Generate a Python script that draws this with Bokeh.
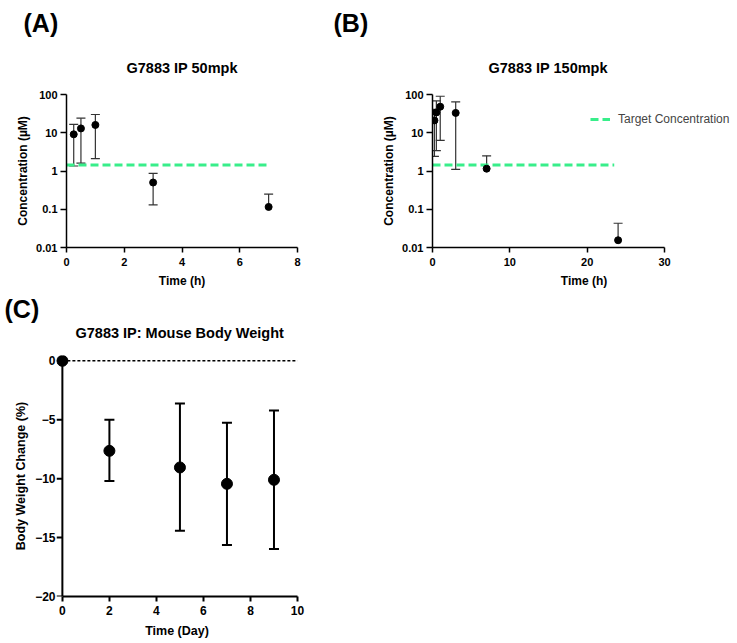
import numpy as np
from bokeh.plotting import figure
from bokeh.models import (Range1d, FixedTicker, Whisker, TeeHead, ColumnDataSource,
                          Title, Legend, LegendItem)
from bokeh.layouts import row, column
from bokeh.embed import file_html
from bokeh.resources import INLINE

# ---------------- data ----------------
# Panel A: G7883 IP 50mpk
a_time = [0.25, 0.5, 1, 3, 7]
a_conc = [9.1, 13, 16, 0.5, 0.115]
a_upper = [16.6, 24, 30, 0.87, 0.25]
a_lower = [1.35, 1.6, 2.1, 0.13, float("nan")]

# Panel B: G7883 IP 150mpk
b_time = [0.25, 0.5, 1, 3, 7, 24]
b_conc = [21, 34, 48, 33, 1.15, 0.0155]
b_upper = [41, 68, 90, 64, 2.5, 0.043]
b_lower = [2.4, 3.4, 6.3, 1.1, float("nan"), float("nan")]

target_conc = 1.43
a_target_x = [0, 7]
b_target_x = [0, 23.5]

# Panel C: body weight
c_day = [0, 2, 5, 7, 9]
c_change = [0, -7.64, -9.05, -10.44, -10.1]
c_upper = [0, -5.0, -3.62, -5.26, -4.22]
c_lower = [0, -10.2, -14.43, -15.62, -15.96]

a_xticks = [0, 2, 4, 6, 8]
b_xticks = [0, 10, 20, 30]
c_xticks = [0, 2, 4, 6, 8, 10]
c_yticks = [-20, -15, -10, -5, 0]
log_ticks = [0.01, 0.1, 1, 10, 100]
log_labels = {0.01: "0.01", 0.1: "0.1", 1: "1", 10: "10", 100: "100"}

FONT = "Liberation Sans"
GREEN = "#38EE8A"


def style_axes(p, tick_size, label_size, lw):
    for ax in (p.xaxis[0], p.yaxis[0]):
        ax.axis_line_width = lw
        ax.axis_line_color = "black"
        ax.major_tick_line_width = lw
        ax.major_tick_line_color = "black"
        ax.major_tick_out = 6
        ax.major_tick_in = 0
        ax.minor_tick_line_color = None
        ax.major_label_text_font = FONT
        ax.major_label_text_font_style = "bold"
        ax.major_label_text_font_size = tick_size
        ax.major_label_text_color = "black"
        ax.axis_label_text_font = FONT
        ax.axis_label_text_font_style = "bold"
        ax.axis_label_text_font_size = label_size
        ax.axis_label_text_color = "black"
    p.xgrid.visible = False
    p.ygrid.visible = False
    p.outline_line_color = None
    p.background_fill_color = None
    p.border_fill_color = None


def add_titles(p, letter, letter_offset, letter_standoff, title, title_offset,
               title_standoff, spacer_standoff=None):
    # panel letter is the figure's own (outermost) title
    p.title.text = letter
    p.title.align = "left"
    p.title.offset = letter_offset
    p.title.standoff = letter_standoff
    p.title.text_font = FONT
    p.title.text_font_style = "bold"
    p.title.text_font_size = "25px"
    p.title.text_color = "black"
    if spacer_standoff is not None:
        p.add_layout(Title(text=" ", standoff=spacer_standoff, text_font_size="8px"), "above")
    p.add_layout(Title(text=title, align="left", offset=title_offset,
                       standoff=title_standoff, text_font=FONT, text_font_style="bold",
                       text_font_size="14.5px", text_color="black"), "above")


def conc_panel(width, mb_left, mb_right, xticks, plot_w, times, conc, upper, lower,
               target_x, title, title_offset, letter, letter_offset, legend=False):
    # frame may extend past the last tick (room for the legend); axis line stops at last tick
    frame_w = width - mb_left - mb_right
    x_end = max(xticks) * frame_w / plot_w
    p = figure(width=width, height=290, y_axis_type="log",
               x_range=Range1d(0, x_end), y_range=Range1d(0.01, 100),
               output_backend="svg", toolbar_location=None,
               min_border_left=mb_left, min_border_right=mb_right,
               min_border_top=94, min_border_bottom=42)
    style_axes(p, "11px", "12px", 1.5)
    p.xaxis.bounds = (min(xticks), max(xticks))
    p.xaxis.major_tick_out = 5
    p.xaxis.major_label_standoff = 5
    p.xaxis.axis_label_standoff = 5
    p.yaxis.major_label_standoff = 3
    p.yaxis.axis_label_standoff = 3
    p.xaxis.ticker = FixedTicker(ticks=xticks)
    p.yaxis.ticker = FixedTicker(ticks=log_ticks)
    p.yaxis.major_label_overrides = log_labels
    p.xaxis.axis_label = "Time (h)"
    p.yaxis.axis_label = "Concentration (µM)"

    src = ColumnDataSource(dict(t=times, c=conc, up=upper, lo=lower))
    tl = p.line(target_x, [target_conc, target_conc], line_color=GREEN,
                line_width=3, line_dash="8 4")
    p.add_layout(Whisker(source=src, base="t", upper="up", lower="c", dimension="height",
                         line_color="#333333", line_width=1.2,
                         upper_head=TeeHead(size=9, line_color="#333333", line_width=1.2),
                         lower_head=None))
    p.add_layout(Whisker(source=src, base="t", upper="c", lower="lo", dimension="height",
                         line_color="#333333", line_width=1.2,
                         lower_head=TeeHead(size=9, line_color="#333333", line_width=1.2),
                         upper_head=None))
    p.scatter("t", "c", source=src, size=7, color="black")

    add_titles(p, letter, letter_offset, 4, title, title_offset, 38)
    if legend:
        lg = Legend(items=[LegendItem(label="Target Concentration", renderers=[tl])],
                    location=(158, 118), border_line_color=None, background_fill_alpha=0,
                    label_text_font=FONT, label_text_font_size="12px",
                    glyph_width=20, label_standoff=8, padding=0, margin=0)
        p.add_layout(lg, "center")
    return p


pa = conc_panel(328, 66, 31, a_xticks, 231, a_time, a_conc, a_upper, a_lower,
                a_target_x, "G7883 IP 50mpk", 60, "(A)", -43)
pb = conc_panel(409, 104, 2, b_xticks, 232, b_time, b_conc, b_upper, b_lower,
                b_target_x, "G7883 IP 150mpk", 56, "(B)", -99, legend=True)

# Panel C
pc = figure(width=330, height=353, x_range=Range1d(-0.25, 10), y_range=Range1d(-20, 0.45),
            output_backend="svg", toolbar_location=None,
            min_border_left=56, min_border_right=33, min_border_top=65, min_border_bottom=47)
style_axes(pc, "12px", "12.5px", 2)
pc.xaxis.ticker = FixedTicker(ticks=c_xticks)
pc.yaxis.ticker = FixedTicker(ticks=c_yticks)
pc.xaxis.bounds = (min(c_xticks), max(c_xticks))
pc.xaxis.major_label_standoff = 4
pc.xaxis.axis_label_standoff = 6
pc.xaxis.major_tick_out = 5
# the y axis sits at day 0; its line and ticks are drawn at that position
pc.yaxis.axis_line_color = None
pc.yaxis.major_tick_line_color = None
pc.yaxis.major_tick_out = 0
pc.yaxis.major_label_standoff = 1
pc.yaxis.axis_label_standoff = 4
pc.xaxis.axis_label = "Time (Day)"
pc.yaxis.axis_label = "Body Weight Change (%)"

x0 = c_xticks[0]
pc.segment(x0=[x0], y0=[min(c_yticks)], x1=[x0], y1=[max(c_yticks)],
           line_color="black", line_width=2)
pc.segment(x0=[x0] * len(c_yticks), y0=c_yticks, x1=[pc.x_range.start] * len(c_yticks),
           y1=c_yticks, line_color="black", line_width=2)

csrc = ColumnDataSource(dict(d=c_day, v=c_change, up=c_upper, lo=c_lower))
pc.line([min(c_xticks), max(c_xticks)], [0, 0], line_color="black", line_width=1.5,
        line_dash="3 2")
pc.add_layout(Whisker(source=csrc, base="d", upper="up", lower="lo", dimension="height",
                      line_color="black", line_width=2,
                      upper_head=TeeHead(size=10, line_color="black", line_width=2),
                      lower_head=TeeHead(size=10, line_color="black", line_width=2)))
pc.scatter("d", "v", source=csrc, size=11, color="black")
add_titles(pc, "(C)", -52, 0, "G7883 IP: Mouse Body Weight", 19, 0, spacer_standoff=4)

layout = column(row(pa, pb), pc)
open("out.html", "w").write(file_html(layout, INLINE))
